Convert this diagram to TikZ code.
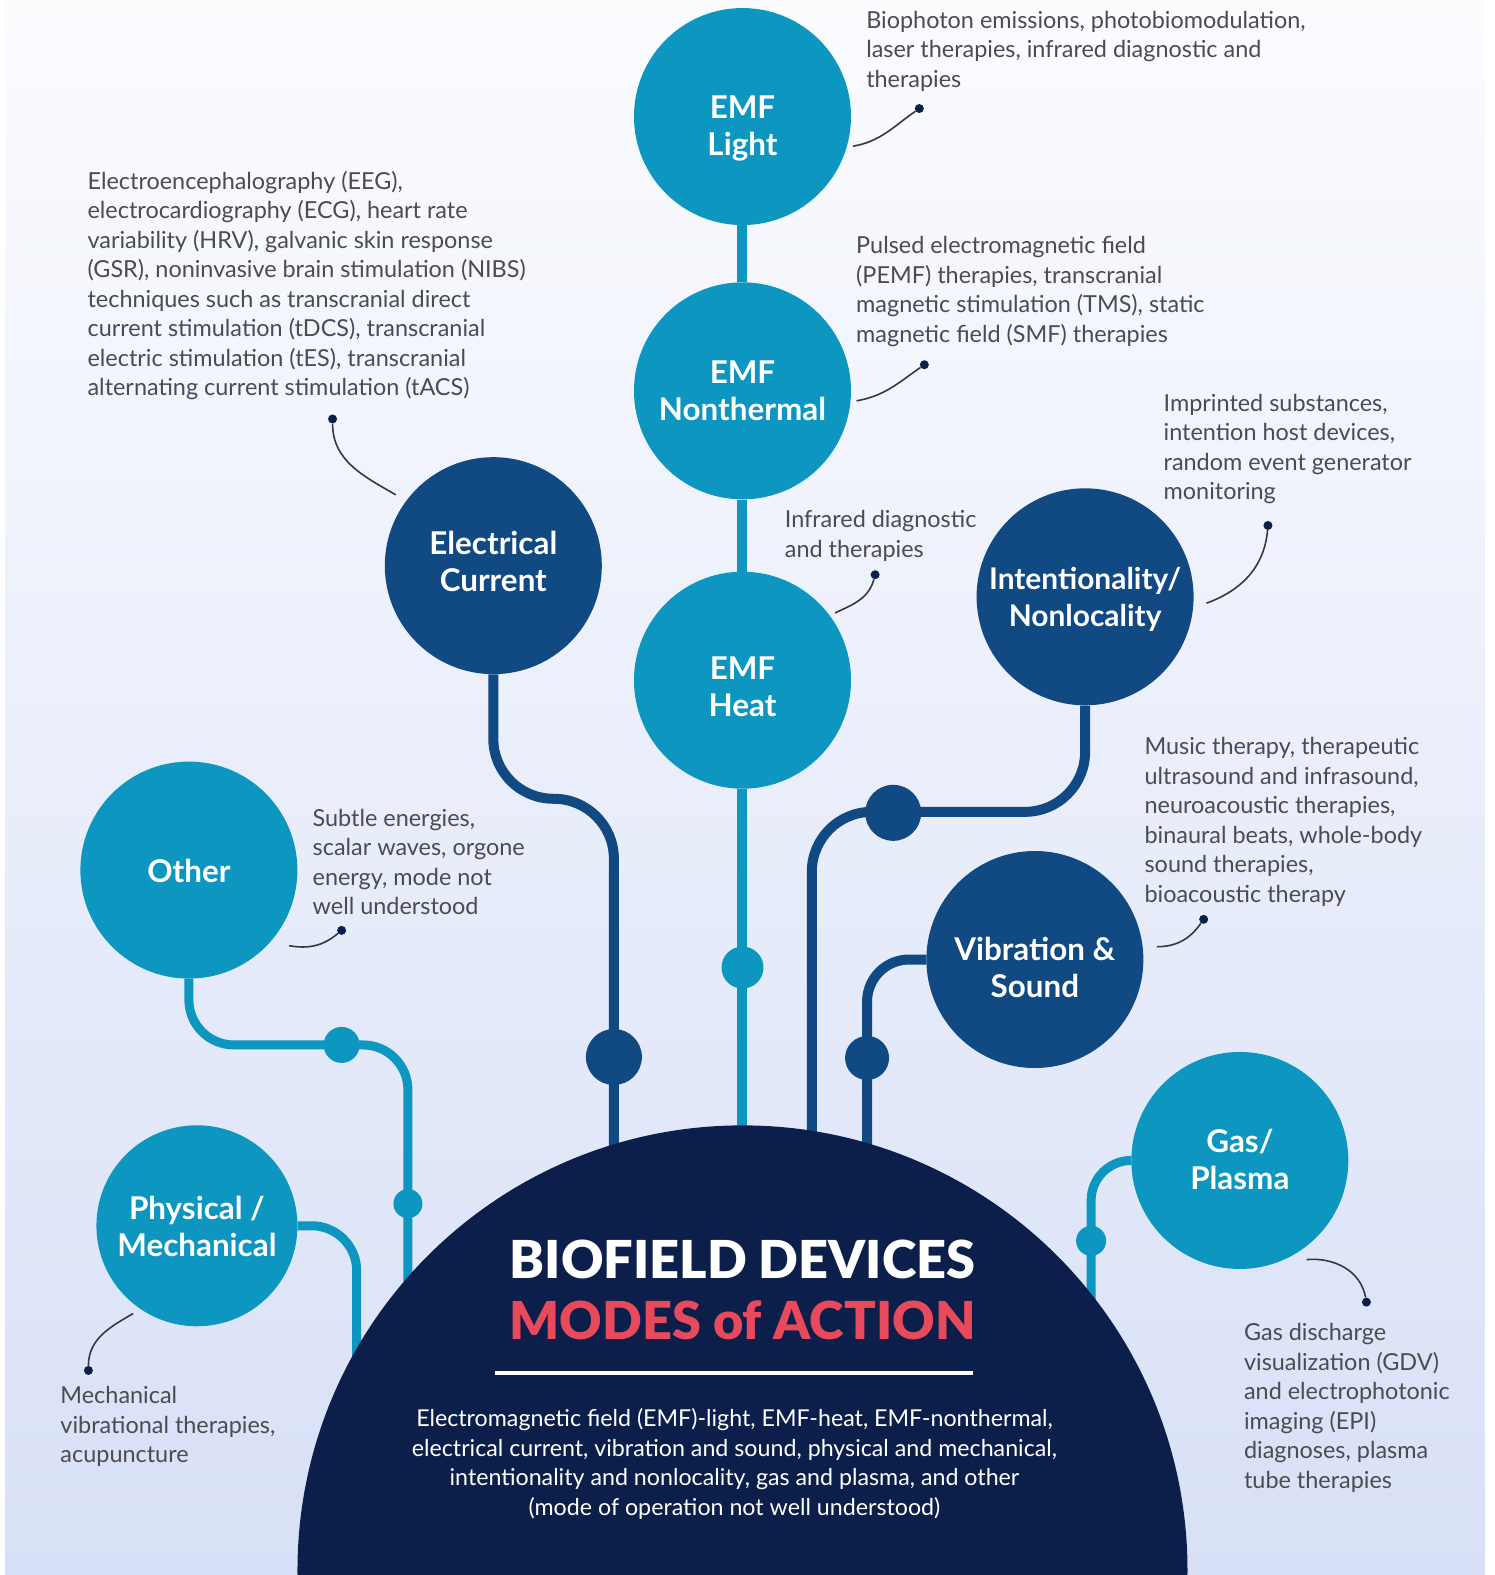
\documentclass[tikz,border=0pt]{standalone}
\usepackage{fontspec}
\setmainfont{Lato}
\newfontface\titleface{Lato Black}
\usetikzlibrary{positioning}

\definecolor{emfblue}{RGB}{12,150,192}
\definecolor{deepblue}{RGB}{17,74,131}
\definecolor{hubnavy}{RGB}{12,31,74}
\definecolor{titlered}{RGB}{232,73,91}
\definecolor{notegray}{RGB}{75,75,80}
\definecolor{leadgray}{RGB}{55,55,62}
\definecolor{bgtop}{RGB}{251,252,254}
\definecolor{bgbottom}{RGB}{216,224,247}

\begin{document}
\begin{tikzpicture}[
        x=1.0047bp, y=1.0047bp,
        modenode/.style={circle, fill=#1, minimum size=217bp, inner sep=0pt},
        modenode/.default=emfblue,
        modelabel/.style={inner sep=0pt, align=center, text=white,
            font=\bfseries\fontsize{31.5}{37}\selectfont},
        wire/.style={draw=#1, line width=10bp},
        wirejoint/.style={circle, fill=#1, inner sep=0pt},
        notetext/.style={anchor=north west, inner sep=0pt, align=left, text=notegray,
            font=\fontsize{23.5}{29.6}\selectfont},
        notedot/.style={circle, fill=hubnavy, minimum size=9bp, inner sep=0pt},
        leader/.style={draw=leadgray, line width=1.6bp},
        hubtitle/.style={inner sep=0pt, text=white, font=\titleface\fontsize{52.5}{60}\selectfont}
    ]
    \useasboundingbox (0,0) rectangle (1487,-1567.6);
    \shade[top color=bgtop, bottom color=bgbottom] (5,0) rectangle (1478,-1567.6);

    % Modes
    \node[modenode] (light) at (739,-116) {};
    \node[modenode] (nontherm) at (739,-389) {};
    \node[modenode] (heat) at (739,-677) {};
    \node[modenode=deepblue] (elec) at (491,-563) {};
    \node[modenode=deepblue] (intent) at (1080,-594) {};
    \node[modenode] (other) at (188,-866) {};
    \node[modenode=deepblue] (vib) at (1030,-955) {};
    \node[modenode, minimum size=201bp] (phys) at (196,-1220) {};
    \node[modenode] (gas) at (1234,-1155) {};

    \node[modelabel, yshift=-12bp] (lightlabel) at (light) {EMF\\Light};
    \node[modelabel] (nonthermlabel) at (nontherm) {EMF\\Nonthermal};
    \node[modelabel, yshift=-7bp] (heatlabel) at (heat) {EMF\\Heat};
    \node[modelabel, yshift=4bp] (eleclabel) at (elec) {Electrical\\Current};
    \node[modelabel, yshift=-3bp, font=\bfseries\fontsize{30}{37}\selectfont] (intentlabel) at (intent) {Intentionality/\\Nonlocality};
    \node[modelabel, yshift=-1bp] (otherlabel) at (other) {Other};
    \node[modelabel, yshift=-8bp] (viblabel) at (vib) {Vibration \&\\Sound};
    \node[modelabel, yshift=-1bp] (physlabel) at (phys) {Physical /\\Mechanical};
    \node[modelabel, yshift=1bp] (gaslabel) at (gas) {Gas/\\Plasma};

    % Wires down to the hub
    \coordinate (hubc) at (739,-1563);
    \coordinate (elecbend) at (611,-795);
    \coordinate (intbend) at (808,-808);
    \coordinate (otherbend) at (406,-1040);
    \coordinate (vibfoot) at (863,-1563);
    \coordinate (physfoot) at (355,-1563);
    \coordinate (gasfoot) at (1086,-1563);
    \draw[wire=emfblue] (light) -- (nontherm);
    \draw[wire=emfblue] (nontherm) -- (heat);
    \draw[wire=emfblue] (heat) -- (heat |- hubc);
    \draw[wire=deepblue, rounded corners=60bp] (elec.south) |- (elecbend) -- (elecbend |- hubc);
    \draw[wire=deepblue, rounded corners=60bp] (intent.south) |- (intbend) -- (intbend |- hubc);
    \draw[wire=deepblue, rounded corners=42bp] (vib.west) -| (vibfoot);
    \draw[wire=emfblue, line width=9bp, rounded corners=45bp] (other.south) |- (otherbend) -- (otherbend |- hubc);
    \draw[wire=emfblue, line width=9bp, rounded corners=45bp] (phys.east) -| (physfoot);
    \draw[wire=emfblue, line width=9bp, rounded corners=40bp] (gas.west) -| (gasfoot);

    \node[wirejoint=emfblue, minimum size=42bp] (heatjoint) at (739,-963) {};
    \node[wirejoint=deepblue, minimum size=56bp] (elecjoint) at (611,-1052) {};
    \node[wirejoint=deepblue, minimum size=56bp] (intjoint) at (889,-809) {};
    \node[wirejoint=deepblue, minimum size=44bp] (vibjoint) at (863,-1053) {};
    \node[wirejoint=emfblue, minimum size=36bp] (otherjoint) at (340,-1040) {};
    \node[wirejoint=emfblue, minimum size=29bp] (otherjoint2) at (406,-1198) {};
    \node[wirejoint=emfblue, minimum size=30bp] (gasjoint) at (1086,-1235) {};

    % Hub
    \node[circle, fill=hubnavy, minimum size=890bp, inner sep=0pt] (hub) at (hubc) {};
    \node[hubtitle, anchor=base] (title) at (739,-1272) {BIOFIELD DEVICES};
    \node[hubtitle, text=titlered, below=22bp of title] (subtitle) {MODES of ACTION};
    \draw[white, line width=4bp] (493,-1367) -- (968,-1367);
    \node[anchor=north, inner sep=0pt, align=center, text=white,
        font=\fontsize{23.3}{29.5}\selectfont] (desc) at (731,-1402)
        {Electromagnetic field (EMF)-light, EMF-heat, EMF-nonthermal,\\
         electrical current, vibration and sound, physical and mechanical,\\
         intentionality and nonlocality, gas and plasma, and other\\
         (mode of operation not well understood)};

    % Notes
    \node[notetext] (lightnote) at (862,-11) {Biophoton emissions, photobiomodulation,\\laser therapies, infrared diagnostic and\\therapies};
    \node[notetext] (nonthermnote) at (852,-235) {Pulsed electromagnetic field\\(PEMF) therapies, transcranial\\magnetic stimulation (TMS), static\\magnetic field (SMF) therapies};
    \node[notetext] (heatnote) at (781,-508) {Infrared diagnostic\\and therapies};
    \node[notetext] (elecnote) at (87,-170) {Electroencephalography (EEG),\\electrocardiography (ECG), heart rate\\variability (HRV), galvanic skin response\\(GSR), noninvasive brain stimulation (NIBS)\\techniques such as transcranial direct\\current stimulation (tDCS), transcranial\\electric stimulation (tES), transcranial\\alternating current stimulation (tACS)};
    \node[notetext] (intentnote) at (1158,-392) {Imprinted substances,\\intention host devices,\\random event generator\\monitoring};
    \node[notetext] (othernote) at (311,-805) {Subtle energies,\\scalar waves, orgone\\energy, mode not\\well understood};
    \node[notetext] (vibnote) at (1139,-734) {Music therapy, therapeutic\\ultrasound and infrasound,\\neuroacoustic therapies,\\binaural beats, whole-body\\sound therapies,\\bioacoustic therapy};
    \node[notetext] (physnote) at (60,-1380) {Mechanical\\vibrational therapies,\\acupuncture};
    \node[notetext] (gasnote) at (1238,-1317) {Gas discharge\\visualization (GDV)\\and electrophotonic\\imaging (EPI)\\diagnoses, plasma\\tube therapies};

    % Leaders
    \node[notedot] (lightdot) at (915,-108) {};
    \node[notedot] (nonthermdot) at (920,-363) {};
    \node[notedot] (heatdot) at (871,-572) {};
    \node[notedot] (elecdot) at (331,-417) {};
    \node[notedot] (intentdot) at (1262,-523) {};
    \node[notedot] (otherdot) at (340,-926) {};
    \node[notedot] (vibdot) at (1198,-915) {};
    \node[notedot] (physdot) at (88,-1364) {};
    \node[notedot] (gasdot) at (1360,-1296) {};
    \draw[leader] ([shift={(-15:114)}]light.center) to[out=10, in=-145] (lightdot);
    \draw[leader] ([shift={(-5:114)}]nontherm.center) to[out=10, in=-145] (nonthermdot);
    \draw[leader] ([shift={(36:114)}]heat.center) to[out=25, in=-105] (heatdot);
    \draw[leader] ([shift={(144:120)}]elec.center) to[out=150, in=-90] (elecdot);
    \draw[leader] ([shift={(-3:121)}]intent.center) to[out=20, in=-95] (intentdot);
    \draw[leader] ([shift={(-37:125)}]other.center) to[out=-10, in=-140] (otherdot);
    \draw[leader] ([shift={(6:122)}]vib.center) to[out=0, in=-125] (vibdot);
    \draw[leader] ([shift={(-126:108)}]phys.center) to[out=210, in=90] (physdot);
    \draw[leader] ([shift={(-56:119)}]gas.center) to[out=5, in=100] (gasdot);
\end{tikzpicture}
\end{document}
